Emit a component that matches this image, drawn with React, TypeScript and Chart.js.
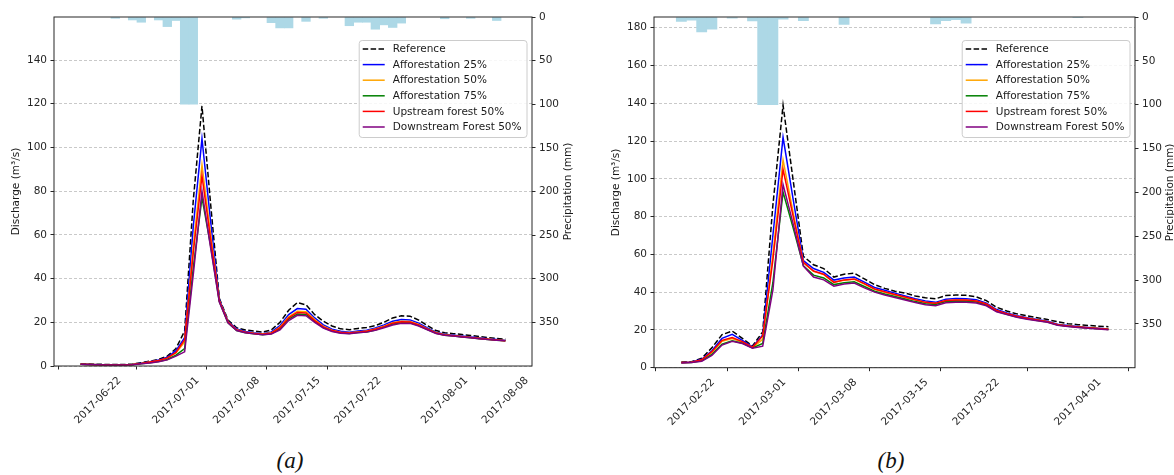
import React, { useEffect, useRef } from 'react';
import { Chart, registerables } from 'chart.js';

Chart.register(...registerables);

Chart.defaults.font.family = '"DejaVu Sans", sans-serif';
Chart.defaults.font.size = 10.5;
Chart.defaults.color = '#262626';

// ---- Shared legend / series styling ----
const seriesNames = [
  'Reference',
  'Afforestation 25%',
  'Afforestation 50%',
  'Afforestation 75%',
  'Upstream forest 50%',
  'Downstream Forest 50%',
];
const seriesColors = ['#000000', '#0000ff', '#ffa500', '#008000', '#ff0000', '#800080'];

const precipTicks = [0, 50, 100, 150, 200, 250, 300, 350];

// ---- Panel (a): summer 2017 event, days counted from 2017-06-22 ----
const baseDateA = '2017-06-22';
const firstDayA = -2;
const referenceA = [1.0, 0.9, 0.8, 0.7, 0.7, 0.7, 0.9, 1.5, 2.2, 3.0, 4.5, 8.0, 16, 76, 119, 74, 31, 21, 17.5, 16.5, 16, 15.5, 16.5, 20, 25.5, 29, 28, 23.5, 20.5, 18.3, 17, 16.6, 17.2, 17.6, 18.5, 20, 22, 23, 22.8, 21, 18.5, 16.2, 15.2, 14.8, 14.4, 14, 13.5, 13, 12.6, 12.2];
const aff25A = [0.8, 0.7, 0.6, 0.5, 0.5, 0.5, 0.7, 1.3, 2.0, 2.7, 4.0, 7.0, 13, 64, 104, 66, 30.5, 20.5, 17, 15.8, 15.2, 14.8, 15.6, 18.5, 23.5, 26.3, 26, 22, 18.8, 16.8, 15.9, 15.5, 16, 16.4, 17.4, 18.8, 20.5, 21.3, 21.1, 19.6, 17.4, 15.5, 14.5, 14.1, 13.7, 13.3, 12.9, 12.5, 12.1, 11.7];
const aff50A = [0.8, 0.7, 0.6, 0.5, 0.5, 0.5, 0.7, 1.2, 1.8, 2.4, 3.5, 6.0, 11, 55, 92, 60, 30, 20.2, 16.6, 15.5, 15, 14.6, 15.2, 17.8, 22.5, 25, 24.8, 21.2, 18.2, 16.4, 15.5, 15.2, 15.6, 16, 16.9, 18.2, 19.8, 20.5, 20.4, 19, 17, 15.2, 14.3, 13.9, 13.5, 13.1, 12.7, 12.3, 11.9, 11.5];
const aff75A = [0.8, 0.7, 0.6, 0.5, 0.5, 0.5, 0.6, 1.0, 1.5, 2.0, 3.0, 5.0, 8.0, 45, 77, 55, 29.5, 19.8, 16.2, 15.2, 14.7, 14.3, 14.8, 17, 21.5, 23.8, 23.6, 20.4, 17.6, 16, 15.1, 14.9, 15.3, 15.6, 16.5, 17.8, 19.2, 19.8, 19.8, 18.5, 16.7, 15, 14.1, 13.7, 13.3, 12.9, 12.5, 12.1, 11.8, 11.5];
const upstreamA = [0.8, 0.7, 0.6, 0.5, 0.5, 0.5, 0.7, 1.2, 1.8, 2.5, 3.7, 6.2, 12, 52, 87, 58, 29.8, 20.1, 16.5, 15.4, 14.9, 14.5, 15, 17.5, 22, 24.5, 24.3, 20.8, 17.9, 16.2, 15.3, 15.1, 15.5, 15.9, 16.8, 18, 19.6, 20.2, 20.1, 18.8, 16.9, 15.1, 14.2, 13.8, 13.4, 13, 12.6, 12.2, 11.9, 11.5];
const downstreamA = [0.8, 0.7, 0.6, 0.5, 0.5, 0.5, 0.6, 1.0, 1.4, 1.9, 2.8, 4.5, 6.5, 42, 80, 54, 29.3, 19.8, 16.2, 15.2, 14.7, 14.3, 14.6, 16.5, 20.8, 23.2, 23, 20, 17.4, 15.8, 15, 14.8, 15.2, 15.5, 16.3, 17.5, 18.8, 19.5, 19.5, 18.3, 16.6, 14.9, 14.1, 13.7, 13.3, 12.9, 12.5, 12.1, 11.8, 11.5];
const precipDaysA = [2, 4, 5, 7, 8, 9, 10, 11, 16, 17, 20, 21, 22, 24, 26, 29, 30, 31, 32, 33, 34, 35, 40, 43, 46];
const precipA = [1.5, 3.4, 6, 3.4, 11, 4, 100, 100, 2.5, 1, 6.5, 12.5, 12.5, 5, 1.5, 10, 6, 6, 14, 9, 12, 7, 2, 1.5, 4];
const tickDaysA = [0, 9, 16, 23, 30, 40, 47];
const dischargeTicksA = [0, 20, 40, 60, 80, 100, 120, 140];

// ---- Panel (b): spring 2017 event, days counted from 2017-02-22 ----
const baseDateB = '2017-02-22';
const firstDayB = -1;
const referenceB = [3, 3.2, 5, 10.5, 17.5, 19.4, 15.5, 11.5, 19, 86, 139, 99, 59, 54.5, 52.5, 48, 49.5, 50, 47, 44, 42, 40.5, 39.5, 38, 37, 36.5, 38.2, 38.5, 38.3, 37.5, 35.5, 32, 30, 28.5, 27.5, 26.5, 25.5, 24.3, 23.3, 22.8, 22.4, 22, 21.7];
const aff25B = [2.8, 3, 4.5, 9, 15.5, 17.7, 14.5, 11, 17.3, 70, 122, 89, 56.7, 52.5, 50.5, 46.4, 47.5, 48, 45.3, 42.5, 41, 39.5, 38, 36.5, 35.3, 34.6, 36.3, 36.6, 36.5, 36, 34.2, 30.8, 29, 27.5, 26.5, 25.5, 24.6, 23, 22.3, 21.8, 21.3, 20.9, 20.5];
const aff50B = [2.7, 2.9, 4, 8, 14, 15.4, 13.5, 10.7, 15, 60, 110, 82, 55.5, 51, 49.3, 45.3, 46.3, 46.8, 44.3, 41.5, 40, 38.6, 37.2, 35.8, 34.6, 34, 35.5, 35.8, 35.7, 35.3, 33.6, 30.2, 28.5, 27.1, 26.1, 25.2, 24.3, 22.8, 22.1, 21.6, 21.1, 20.7, 20.3];
const aff75B = [2.6, 2.8, 3.6, 7, 12.5, 14.3, 13, 10.5, 12.8, 45, 93, 74, 54, 49, 47.5, 44, 45, 45.5, 43, 40.5, 39, 37.7, 36.4, 35, 33.9, 33.5, 35, 35.3, 35.2, 34.8, 33.2, 29.9, 28.3, 26.9, 25.9, 25, 24.2, 22.6, 21.9, 21.4, 21, 20.6, 20.2];
const upstreamB = [2.7, 2.9, 4.2, 8.5, 14.5, 16, 13.8, 10.8, 16.8, 57, 105, 80, 55.8, 51.2, 49.5, 45.2, 46.5, 47, 44.5, 41.7, 40.2, 38.8, 37.4, 36, 34.6, 34.1, 35.6, 35.9, 35.8, 35.3, 33.7, 30.3, 28.6, 27.2, 26.2, 25.3, 24.4, 22.8, 22.1, 21.6, 21.1, 20.7, 20.3];
const downstreamB = [2.5, 2.7, 3.4, 6.5, 12, 14, 12.8, 10.3, 11.4, 41, 97, 76, 53.8, 48, 46.5, 43.2, 44.3, 44.8, 42.3, 40, 38.5, 37.2, 35.9, 34.5, 33.3, 32.8, 34.4, 34.7, 34.6, 34.2, 32.8, 29.6, 28.1, 26.7, 25.7, 24.9, 24.1, 22.5, 21.8, 21.3, 20.9, 20.5, 20.1];
const precipDaysB = [-1, 0, 1, 2, 4, 6, 7, 8, 9, 11, 15, 24, 25, 26, 27, 38];
const precipB = [5, 3.5, 17, 14, 1.2, 4.5, 100, 100, 2.5, 4.2, 8.5, 8, 4.3, 3, 7, 0.5];
const tickDaysB = [0, 7, 14, 21, 28, 38];
const dischargeTicksB = [0, 20, 40, 60, 80, 100, 120, 140, 160, 180];

const AXIS_COLOR = '#262626';
const FONT = '10.5px "DejaVu Sans", sans-serif';

function dayLabel(base: string, offset: number): string {
  const [y, m, d] = base.split('-').map(Number);
  const t = new Date(Date.UTC(y, m - 1, d + Math.round(offset)));
  return t.toISOString().slice(0, 10);
}

// Frame, rotated axis titles and a boxed legend in the upper right
const decorPlugin = {
  id: 'decor',
  afterDraw(chart: any, _args: any, opts: any) {
    const { ctx, chartArea: ca } = chart;
    ctx.save();
    ctx.strokeStyle = AXIS_COLOR;
    ctx.lineWidth = 1;
    ctx.setLineDash([]);
    ctx.strokeRect(ca.left, ca.top, ca.right - ca.left, ca.bottom - ca.top);

    ctx.fillStyle = '#1a1a1a';
    ctx.font = FONT;
    ctx.textAlign = 'center';
    ctx.textBaseline = 'middle';
    const midY = (ca.top + ca.bottom) / 2;
    for (const t of [
      { x: opts.leftTitleX, text: opts.leftTitle },
      { x: opts.rightTitleX, text: opts.rightTitle },
    ]) {
      ctx.save();
      ctx.translate(t.x, midY);
      ctx.rotate(-Math.PI / 2);
      ctx.fillText(t.text, 0, 0);
      ctx.restore();
    }

    // legend
    const items = chart.data.datasets
      .filter((ds: any) => ds.type === 'line')
      .map((ds: any) => ({ label: ds.label, color: ds.borderColor, dash: ds.borderDash || [] }));
    ctx.font = FONT;
    const textW = Math.max(...items.map((it: any) => ctx.measureText(it.label).width));
    const rowH = 15.6;
    const boxW = 4 + 22 + 8 + textW + 5;
    const boxH = 9 + rowH * (items.length - 1) + 10;
    const x0 = ca.right - 5.5 - boxW;
    const y0 = ca.top + 23;
    ctx.beginPath();
    ctx.roundRect(x0 + 0.5, y0 + 0.5, boxW, boxH, 3);
    ctx.fillStyle = 'rgba(255,255,255,0.85)';
    ctx.fill();
    ctx.strokeStyle = '#cccccc';
    ctx.lineWidth = 1;
    ctx.stroke();
    ctx.textAlign = 'left';
    items.forEach((it: any, i: number) => {
      const cy = y0 + 9 + i * rowH;
      ctx.beginPath();
      ctx.setLineDash(it.dash);
      ctx.strokeStyle = it.color;
      ctx.lineWidth = 1.5;
      ctx.moveTo(x0 + 4, cy);
      ctx.lineTo(x0 + 26, cy);
      ctx.stroke();
      ctx.setLineDash([]);
      ctx.fillStyle = '#1a1a1a';
      ctx.fillText(it.label, x0 + 34, cy + 0.5);
    });
    ctx.restore();
  },
};

type PanelSpec = {
  baseDate: string;
  firstDay: number;
  series: number[][];
  precipDays: number[];
  precip: number[];
  tickDays: number[];
  dischargeTicks: number[];
  xMin: number;
  xMax: number;
  yMax: number;
  leftW: number;
  rightW: number;
  bottomH: number;
  leftTitleX: number;
  rightTitleX: number;
};

function Panel({ spec, width, height }: { spec: PanelSpec; width: number; height: number }) {
  const ref = useRef<HTMLCanvasElement | null>(null);

  useEffect(() => {
    if (!ref.current) return;
    const lines = spec.series.map((vals, i) => ({
      type: 'line',
      label: seriesNames[i],
      data: vals.map((v, k) => ({ x: spec.firstDay + k, y: v })),
      borderColor: seriesColors[i],
      backgroundColor: seriesColors[i],
      borderWidth: 1.5,
      borderDash: i === 0 ? [5.5, 2.4] : [],
      pointRadius: 0,
      tension: 0,
      fill: false,
      yAxisID: 'y',
      order: 6 - i,
    }));
    const bars = {
      type: 'bar',
      label: 'Precipitation',
      data: spec.precipDays.map((d, k) => ({ x: d, y: spec.precip[k] })),
      backgroundColor: '#add8e6',
      borderWidth: 0,
      barPercentage: 1,
      categoryPercentage: 1,
      yAxisID: 'yP',
      order: 20,
    };

    const tickGrid = {
      drawOnChartArea: false,
      drawTicks: true,
      tickLength: 3.5,
      tickColor: AXIS_COLOR,
      tickWidth: 1,
    };

    const chart = new Chart(ref.current, {
      type: 'line',
      data: { datasets: [bars, ...lines] as any },
      plugins: [decorPlugin],
      options: {
        animation: false,
        responsive: false,
        devicePixelRatio: 1,
        layout: { padding: { top: 17, left: 0, right: 0, bottom: 0 } },
        plugins: {
          legend: { display: false },
          tooltip: { enabled: false },
          decor: {
            leftTitle: 'Discharge (m³/s)',
            rightTitle: 'Precipitation (mm)',
            leftTitleX: spec.leftTitleX,
            rightTitleX: spec.rightTitleX,
          },
        } as any,
        scales: {
          x: {
            type: 'linear',
            min: spec.xMin,
            max: spec.xMax,
            offset: false,
            afterBuildTicks: (s: any) => {
              s.ticks = spec.tickDays.map((v) => ({ value: v }));
            },
            afterFit: (s: any) => {
              s.height = spec.bottomH;
            },
            ticks: {
              autoSkip: false,
              minRotation: 45,
              maxRotation: 45,
              padding: 5,
              labelOffset: 21.5,
              color: AXIS_COLOR,
              callback: (v: any) => dayLabel(spec.baseDate, Number(v)),
            },
            grid: tickGrid,
            border: { display: false },
          },
          y: {
            type: 'linear',
            position: 'left',
            min: 0,
            max: spec.yMax,
            afterBuildTicks: (s: any) => {
              s.ticks = spec.dischargeTicks.map((v) => ({ value: v }));
            },
            afterFit: (s: any) => {
              s.width = spec.leftW;
            },
            ticks: { padding: 3.5, color: AXIS_COLOR },
            grid: {
              color: 'rgba(170,170,170,0.8)',
              lineWidth: 0.8,
              drawTicks: true,
              tickLength: 3.5,
              tickColor: AXIS_COLOR,
              tickWidth: 1,
            },
            border: { display: false, dash: [3, 2] },
          },
          yP: {
            type: 'linear',
            position: 'right',
            reverse: true,
            min: 0,
            max: 400,
            afterBuildTicks: (s: any) => {
              s.ticks = precipTicks.map((v) => ({ value: v }));
            },
            afterFit: (s: any) => {
              s.width = spec.rightW;
            },
            ticks: { padding: 3.5, color: AXIS_COLOR },
            grid: tickGrid,
            border: { display: false },
          },
        } as any,
      },
    } as any);
    return () => chart.destroy();
  }, [spec]);

  return <canvas ref={ref} width={width} height={height} style={{ display: 'block', width, height }} />;
}

const specA: PanelSpec = {
  baseDate: baseDateA,
  firstDay: firstDayA,
  series: [referenceA, aff25A, aff50A, aff75A, upstreamA, downstreamA],
  precipDays: precipDaysA,
  precip: precipA,
  tickDays: tickDaysA,
  dischargeTicks: dischargeTicksA,
  xMin: -5.07,
  xMax: 50.07,
  yMax: 159.7,
  leftW: 54,
  rightW: 55,
  bottomH: 74,
  leftTitleX: 16.5,
  rightTitleX: 568,
};

const specB: PanelSpec = {
  baseDate: baseDateB,
  firstDay: firstDayB,
  series: [referenceB, aff25B, aff50B, aff75B, upstreamB, downstreamB],
  precipDays: precipDaysB,
  precip: precipB,
  tickDays: tickDaysB,
  dischargeTicks: dischargeTicksB,
  xMin: -3.69,
  xMax: 43.61,
  yMax: 185.7,
  leftW: 67,
  rightW: 39,
  bottomH: 72.3,
  leftTitleX: 29,
  rightTitleX: 583.5,
};

const captionStyle: React.CSSProperties = {
  position: 'absolute',
  top: 448,
  width: 100,
  textAlign: 'center',
  fontFamily: '"Liberation Serif", serif',
  fontStyle: 'italic',
  fontSize: 23,
  lineHeight: '26px',
  color: '#111',
};

export default function App() {
  return (
    <div style={{ position: 'absolute', left: 0, top: 0, width: 1174, height: 475, background: '#fff', overflow: 'hidden' }}>
      <div style={{ position: 'absolute', left: 0, top: 0 }}>
        <Panel spec={specA} width={587} height={440} />
      </div>
      <div style={{ position: 'absolute', left: 587, top: 0 }}>
        <Panel spec={specB} width={587} height={440} />
      </div>
      <div style={{ ...captionStyle, left: 240 }}>(a)</div>
      <div style={{ ...captionStyle, left: 841 }}>(b)</div>
    </div>
  );
}
